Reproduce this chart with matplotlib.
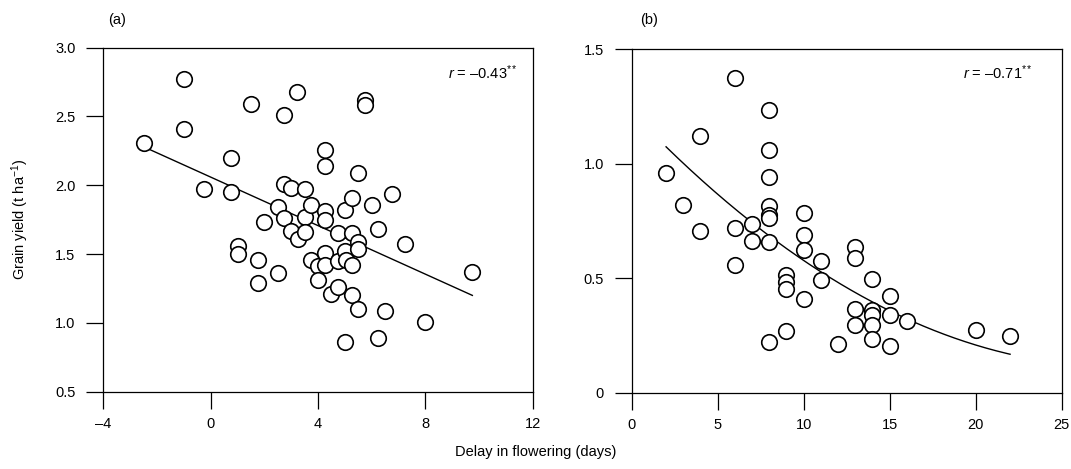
import matplotlib
matplotlib.use('Agg')
import matplotlib.pyplot as plt
import numpy as np

plt.rcParams['font.family'] = ['Liberation Sans', 'DejaVu Sans']
plt.rcParams['mathtext.fontset'] = 'custom'
plt.rcParams['mathtext.rm'] = 'Liberation Sans'
plt.rcParams['mathtext.it'] = 'Liberation Sans:italic'
plt.rcParams['mathtext.default'] = 'regular'

# ---- Panel (a): delay in flowering vs grain yield ----
delay_a = [-2.5, -1.0, -1.0, -0.25, 0.75, 0.75, 1.0, 1.0, 1.5, 1.75, 1.75, 2.0,
           2.5, 2.5, 2.75, 2.75, 2.75, 3.0, 3.0, 3.2, 3.25, 3.5, 3.5, 3.5,
           3.75, 3.75, 4.0, 4.0, 4.25, 4.25, 4.25, 4.25, 4.25, 4.25, 4.5, 4.75,
           4.75, 4.75, 5.0, 5.0, 5.05, 5.0, 5.25, 5.25, 5.25, 5.25, 5.5, 5.5,
           5.5, 5.5, 5.75, 5.75, 6.0, 6.25, 6.25, 6.5, 6.75, 7.25, 8.0, 9.75]
yield_a = [2.31, 2.77, 2.41, 1.97, 2.20, 1.95, 1.56, 1.50, 2.59, 1.46, 1.29, 1.73,
           1.84, 1.36, 2.51, 2.01, 1.76, 1.98, 1.67, 2.68, 1.61, 1.97, 1.77, 1.66,
           1.86, 1.46, 1.41, 1.31, 2.26, 2.14, 1.81, 1.75, 1.51, 1.42, 1.21, 1.65,
           1.45, 1.26, 1.82, 1.52, 1.46, 0.86, 1.91, 1.65, 1.42, 1.20, 2.09, 1.59,
           1.54, 1.10, 2.62, 2.58, 1.86, 1.68, 0.89, 1.09, 1.94, 1.57, 1.01, 1.37]
fit_a_x = [-2.5, 9.75]
fit_a_y = [2.28, 1.20]
r_a = '$\\mathit{r}$ = \u20130.43$^{**}$'

# ---- Panel (b) ----
delay_b = [2, 3, 4, 4, 6, 6, 6, 7, 7, 8, 8, 8, 8, 8, 8, 8, 8, 9, 9, 9, 9,
           10, 10, 10, 10, 11, 11, 12, 13, 13, 13, 13, 14, 14, 14, 14, 14,
           15, 15, 15, 16, 20, 22]
yield_b = [0.96, 0.82, 1.12, 0.705, 1.375, 0.72, 0.556, 0.735, 0.662, 1.234,
           1.062, 0.942, 0.815, 0.775, 0.765, 0.658, 0.22, 0.516, 0.485, 0.455,
           0.268, 0.786, 0.689, 0.624, 0.409, 0.576, 0.492, 0.212, 0.637, 0.59,
           0.365, 0.296, 0.497, 0.361, 0.34, 0.296, 0.235, 0.423, 0.339, 0.205,
           0.314, 0.274, 0.249]
fit_b_coef = [0.001397, -0.07883, 1.2261]   # quadratic fit
fit_b_range = [2, 22]
r_b = '$\\mathit{r}$ = \u20130.71$^{**}$'

xticks_a = [-4, 0, 4, 8, 12]
xticklabels_a = ['\u20134', '0', '4', '8', '12']
yticks_a = [0.5, 1.0, 1.5, 2.0, 2.5, 3.0]
yticklabels_a = ['0.5', '1.0', '1.5', '2.0', '2.5', '3.0']
xticks_b = [0, 5, 10, 15, 20, 25]
xticklabels_b = ['0', '5', '10', '15', '20', '25']
yticks_b = [0, 0.5, 1.0, 1.5]
yticklabels_b = ['0', '0.5', '1.0', '1.5']

fig = plt.figure(figsize=(10.71, 4.69), dpi=100)
axA = fig.add_axes([0.0965, 0.1648, 0.4009, 0.7335])
axB = fig.add_axes([0.5898, 0.1627, 0.4015, 0.7322])

def style(ax):
    for s in ax.spines.values():
        s.set_linewidth(0.9)
    ax.tick_params(direction='out', length=12, width=0.9, labelsize=10.5,
                   top=False, right=False, colors='black')
    ax.tick_params(axis='x', pad=6)
    ax.tick_params(axis='y', pad=8)

axA.plot(fit_a_x, fit_a_y, color='black', lw=1.0, zorder=2)
axA.scatter(delay_a, yield_a, s=125, facecolors='white', edgecolors='black',
            linewidths=1.2, zorder=3)
axA.set_xlim(-4, 12)
axA.set_ylim(0.5, 3.0)
axA.set_xticks(xticks_a)
axA.set_xticklabels(xticklabels_a)
axA.set_yticks(yticks_a)
axA.set_yticklabels(yticklabels_a)
style(axA)
axA.text(0.966, 0.926, r_a, transform=axA.transAxes, ha='right', va='center',
         fontsize=10.5)

xs = np.linspace(fit_b_range[0], fit_b_range[1], 200)
axB.plot(xs, np.polyval(fit_b_coef, xs), color='black', lw=1.0, zorder=2)
axB.scatter(delay_b, yield_b, s=125, facecolors='white', edgecolors='black',
            linewidths=1.2, zorder=3)
axB.set_xlim(0, 25)
axB.set_ylim(0, 1.5)
axB.set_xticks(xticks_b)
axB.set_xticklabels(xticklabels_b)
axB.set_yticks(yticks_b)
axB.set_yticklabels(yticklabels_b)
style(axB)
axB.text(0.933, 0.931, r_b, transform=axB.transAxes, ha='right', va='center',
         fontsize=10.5)

fig.text(108 / 1071, 1 - 20 / 469, '(a)', va='center', ha='left', fontsize=10.5)
fig.text(640 / 1071, 1 - 20 / 469, '(b)', va='center', ha='left', fontsize=10.5)
fig.text(20 / 1071, 1 - 219.7 / 469, 'Grain yield (t ha$^{-1}$)', rotation=90,
         va='center', ha='center', fontsize=10.5)
fig.text(0.5, 1 - 452 / 469, 'Delay in flowering (days)', va='center',
         ha='center', fontsize=10.5)

fig.savefig('out.png', dpi=100)
